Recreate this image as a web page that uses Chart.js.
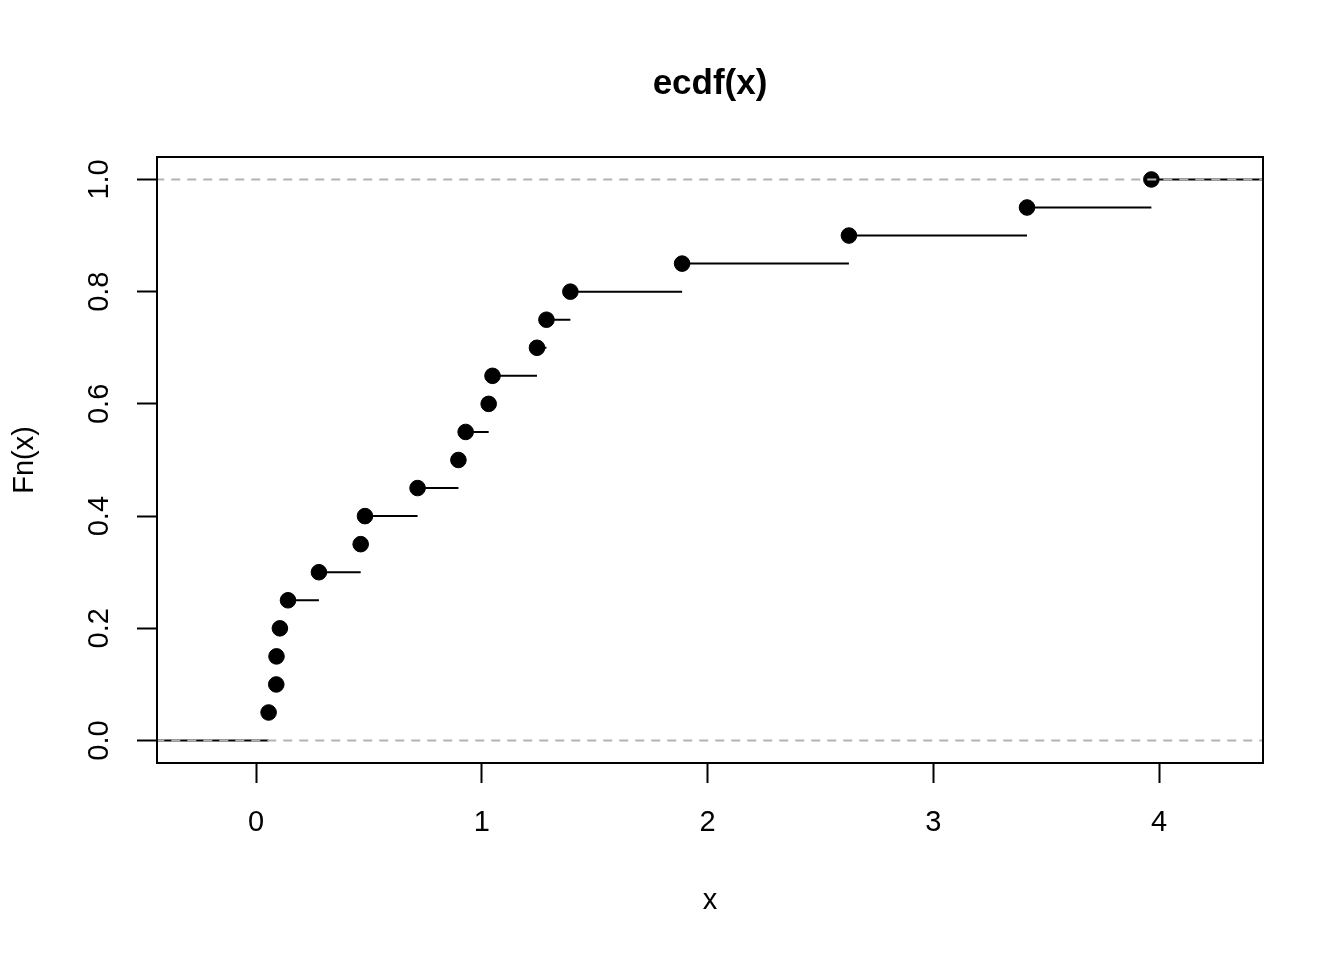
<!DOCTYPE html>
<html>
<head>
<meta charset="utf-8">
<script src="https://cdn.jsdelivr.net/npm/chart.js@4.4.1/dist/chart.umd.min.js"></script>
<style>
  html, body { margin: 0; padding: 0; background: #ffffff; }
  #wrap { width: 1344px; height: 960px; position: relative; }
</style>
</head>
<body>
<div id="wrap"><canvas id="c" width="1344" height="960"></canvas></div>
<script>
// ---- data ----
const knots = [0.055, 0.089, 0.090, 0.105, 0.141, 0.278, 0.463, 0.482, 0.715, 0.896,
               0.928, 1.030, 1.047, 1.244, 1.286, 1.392, 1.887, 2.626, 3.415, 3.966];
const fnValues = [0.05, 0.10, 0.15, 0.20, 0.25, 0.30, 0.35, 0.40, 0.45, 0.50,
                  0.55, 0.60, 0.65, 0.70, 0.75, 0.80, 0.85, 0.90, 0.95, 1.00];
const xTicks = [0, 1, 2, 3, 4];
const yTicks = [0.0, 0.2, 0.4, 0.6, 0.8, 1.0];
const refLevels = [0, 1];
const titleText = 'ecdf(x)';
const xLabel = 'x';
const yLabel = 'Fn(x)';

// axis limits (R style: knots range +- dr, then 4% extension)
const X_MIN = -0.4394, X_MAX = 4.4605;
const Y_MIN = -0.04, Y_MAX = 1.04;

const FONT = '"Liberation Sans", Arial, Helvetica, sans-serif';

// step segments
const segData = [];
segData.push({x: X_MIN - 1, y: 0}, {x: knots[0], y: 0}, {x: knots[0], y: null});
for (let i = 0; i < knots.length - 1; i++) {
  segData.push({x: knots[i], y: fnValues[i]}, {x: knots[i + 1], y: fnValues[i]}, {x: knots[i + 1], y: null});
}
segData.push({x: knots[knots.length - 1], y: 1}, {x: X_MAX + 1, y: 1});

const pointData = knots.map((k, i) => ({x: k, y: fnValues[i]}));

const refData = [];
refLevels.forEach((lv, i) => {
  if (i > 0) refData.push({x: X_MAX + 1, y: null});
  refData.push({x: X_MIN - 1, y: lv}, {x: X_MAX + 1, y: lv});
});

const boxPlugin = {
  id: 'box',
  afterDraw(chart) {
    const {ctx, chartArea: a} = chart;
    ctx.save();
    ctx.strokeStyle = '#000';
    ctx.lineWidth = 2;
    ctx.strokeRect(a.left, a.top, a.right - a.left, a.bottom - a.top);
    ctx.restore();
  }
};

new Chart(document.getElementById('c'), {
  type: 'scatter',
  data: {
    datasets: [
      {
        label: 'ref',
        data: refData,
        showLine: true,
        borderColor: '#b3b3b3',
        borderWidth: 2,
        borderDash: [9, 7],
        pointRadius: 0,
        spanGaps: false,
        fill: false
      },
      {
        label: 'points',
        data: pointData,
        showLine: false,
        pointRadius: 7.8,
        pointBorderWidth: 1,
        pointBackgroundColor: '#000',
        pointBorderColor: '#000'
      },
      {
        label: 'steps',
        data: segData,
        showLine: true,
        borderColor: '#000',
        borderWidth: 2,
        pointRadius: 0,
        spanGaps: false,
        fill: false
      }
    ]
  },
  options: {
    responsive: false,
    animation: false,
    devicePixelRatio: 1,
    layout: { padding: { left: 0, right: 81, top: 0, bottom: 0 } },
    plugins: {
      legend: { display: false },
      tooltip: { enabled: false },
      title: {
        display: true,
        text: titleText,
        fullSize: false,
        color: '#000',
        font: { family: FONT, size: 35, weight: 'bold', lineHeight: 1.2 },
        padding: { top: 63, bottom: 52 }
      }
    },
    scales: {
      x: {
        type: 'linear',
        min: X_MIN,
        max: X_MAX,
        afterBuildTicks(s) { s.ticks = xTicks.map(v => ({value: v})); },
        afterFit(s) { s.height = 197; },
        grid: { display: true, drawOnChartArea: false, drawTicks: true, tickLength: 20, tickColor: '#000', tickWidth: 2 },
        border: { display: true, color: '#000', width: 2 },
        ticks: {
          color: '#000',
          font: { family: FONT, size: 29 },
          padding: 23,
          maxRotation: 0,
          minRotation: 0,
          callback: v => String(v)
        },
        title: {
          display: true,
          text: xLabel,
          color: '#000',
          font: { family: FONT, size: 29 },
          padding: { top: 0, bottom: 42 }
        }
      },
      y: {
        type: 'linear',
        min: Y_MIN,
        max: Y_MAX,
        afterBuildTicks(s) { s.ticks = yTicks.map(v => ({value: v})); },
        afterFit(s) { s.width = 157; },
        grid: { display: true, drawOnChartArea: false, drawTicks: true, tickLength: 20, tickColor: '#000', tickWidth: 2 },
        border: { display: true, color: '#000', width: 2 },
        ticks: {
          color: '#000',
          font: { family: FONT, size: 29 },
          padding: 17,
          minRotation: 90,
          maxRotation: 90,
          crossAlign: 'center',
          callback: v => Number(v).toFixed(1)
        },
        title: {
          display: true,
          text: yLabel,
          color: '#000',
          font: { family: FONT, size: 29 },
          padding: { top: 8, bottom: 0 }
        }
      }
    }
  },
  plugins: [boxPlugin]
});
</script>
</body>
</html>
